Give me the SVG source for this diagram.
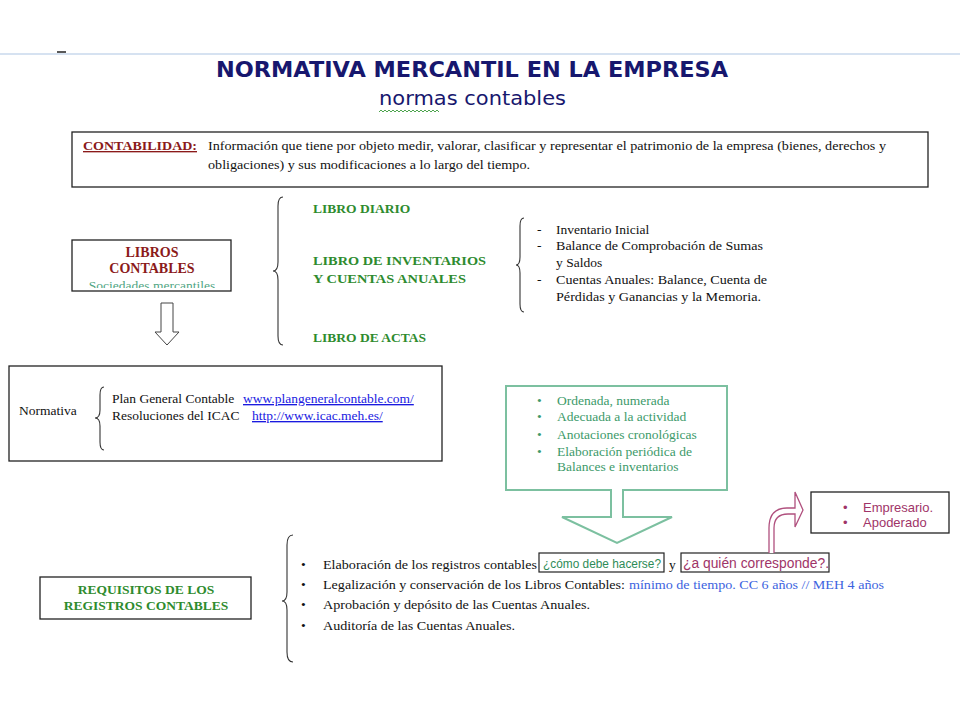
<svg xmlns="http://www.w3.org/2000/svg" width="960" height="720" viewBox="0 0 960 720">
<defs>
<style>
.s{font-family:"Liberation Serif","Times New Roman",serif;font-size:13.5px;fill:#111}
.sb{font-family:"Liberation Serif","Times New Roman",serif;font-weight:bold}
.a{font-family:"Liberation Sans",Arial,sans-serif}
.box{fill:#fff;stroke:#222;stroke-width:1.3}
.br{fill:none;stroke:#333;stroke-width:1.1}
.g{fill:#2e8b2e}
.sg{fill:#3d9a6a}
.pk{fill:#a03468}
.lnk{fill:#1a1adf;text-decoration:underline}
.blue{fill:#3b63e0}
.teal{fill:#4fa583}
</style>
<clipPath id="clipLib"><rect x="72" y="240" width="159" height="48"/></clipPath>
</defs>
<rect width="960" height="720" fill="#fff"/>
<line x1="0" y1="54" x2="960" y2="54" stroke="#c9d9ec" stroke-width="1.5"/>
<line x1="57" y1="52" x2="66" y2="52" stroke="#222" stroke-width="1.5"/>

<g id="title">
<text x="216" y="77" font-family="'DejaVu Sans',sans-serif" font-weight="bold" font-size="22" fill="#17176e" textLength="512" lengthAdjust="spacingAndGlyphs">NORMATIVA MERCANTIL EN LA EMPRESA</text>
<text x="379" y="105" font-family="'DejaVu Sans',sans-serif" font-size="20" fill="#17176e" textLength="187" lengthAdjust="spacingAndGlyphs">normas contables</text>
<path d="M379,112 l2,-2 l2,2 l2,-2 l2,2 l2,-2 l2,2 l2,-2 l2,2 l2,-2 l2,2 l2,-2 l2,2 l2,-2 l2,2 l2,-2 l2,2 l2,-2 l2,2 l2,-2 l2,2 l2,-2 l2,2 l2,-2 l2,2 l2,-2 l2,2 l2,-2 l2,2 l2,-2 l2,2" fill="none" stroke="#3a9a3a" stroke-width="0.9"/>
</g>

<g id="contabilidad">
<rect class="box" x="72" y="132" width="856" height="55"/>
<text class="sb" x="83" y="150" font-size="13.5" fill="#8b1a1a" text-decoration="underline" textLength="114" lengthAdjust="spacingAndGlyphs">CONTABILIDAD:</text>
<text class="s" x="208" y="150" textLength="678" lengthAdjust="spacingAndGlyphs">Información que tiene por objeto medir, valorar, clasificar y representar el patrimonio de la empresa (bienes, derechos y</text>
<text class="s" x="208" y="169" textLength="322" lengthAdjust="spacingAndGlyphs">obligaciones) y sus modificaciones a lo largo del tiempo.</text>
</g>

<g id="libros-contables">
<rect class="box" x="72" y="240" width="159" height="51"/>
<text class="sb" x="152" y="257" font-size="14" fill="#8b1a1a" text-anchor="middle">LIBROS</text>
<text class="sb" x="152" y="273" font-size="14" fill="#8b1a1a" text-anchor="middle">CONTABLES</text>
<text class="s teal" x="152" y="290" font-size="14" text-anchor="middle" clip-path="url(#clipLib)">Sociedades mercantiles</text>
</g>

<g id="libros-lista">
<text class="sb g" x="313" y="213" font-size="13.5">LIBRO DIARIO</text>
<text class="sb g" x="313" y="265" font-size="13.5" textLength="173" lengthAdjust="spacingAndGlyphs">LIBRO DE INVENTARIOS</text>
<text class="sb g" x="313" y="283" font-size="13.5" textLength="153" lengthAdjust="spacingAndGlyphs">Y CUENTAS ANUALES</text>
<text class="sb g" x="313" y="342" font-size="13.5">LIBRO DE ACTAS</text>
</g>

<g id="inventarios-detalle">
<text class="s" x="537" y="234">-</text>
<text class="s" x="556" y="234">Inventario Inicial</text>
<text class="s" x="537" y="250">-</text>
<text class="s" x="556" y="250" textLength="207" lengthAdjust="spacingAndGlyphs">Balance de Comprobación de Sumas</text>
<text class="s" x="556" y="267">y Saldos</text>
<text class="s" x="537" y="284">-</text>
<text class="s" x="556" y="284" textLength="211" lengthAdjust="spacingAndGlyphs">Cuentas Anuales: Balance, Cuenta de</text>
<text class="s" x="556" y="301" textLength="205" lengthAdjust="spacingAndGlyphs">Pérdidas y Ganancias y la Memoria.</text>
</g>

<g id="normativa">
<rect class="box" x="9" y="366" width="433" height="95"/>
<text class="s" x="19" y="415">Normativa</text>
<text class="s" x="112" y="403">Plan General Contable <tspan class="lnk" x="243">www.plangeneralcontable.com/</tspan></text>
<text class="s" x="112" y="420">Resoluciones del ICAC <tspan class="lnk" x="252">http://www.icac.meh.es/</tspan></text>
</g>

<g id="caracteristicas">
<path d="M506,386 H727 V490 H623 V517 H672 L617,543 L562,517 H611 V490 H506 Z" fill="#fff" stroke="#7cc0a0" stroke-width="2"/>
<g class="s sg" font-size="14">
<text x="537" y="405">•</text><text x="557" y="405">Ordenada, numerada</text>
<text x="537" y="421">•</text><text x="557" y="421">Adecuada a la actividad</text>
<text x="537" y="439">•</text><text x="557" y="439">Anotaciones cronológicas</text>
<text x="537" y="456">•</text><text x="557" y="456">Elaboración periódica de</text>
<text x="557" y="471">Balances e inventarios</text>
</g>
</g>

<g id="empresario">
<rect class="box" x="811" y="492" width="138" height="41"/>
<g class="a pk" font-size="13">
<text x="843" y="512">•</text><text x="863" y="512">Empresario.</text>
<text x="843" y="527">•</text><text x="863" y="527">Apoderado</text>
</g>
</g>

<g id="requisitos">
<rect class="box" x="40" y="577" width="211" height="42"/>
<text class="sb g" x="146" y="594" font-size="13.5" text-anchor="middle">REQUISITOS  DE LOS</text>
<text class="sb g" x="146" y="610" font-size="13.5" text-anchor="middle">REGISTROS CONTABLES</text>
</g>

<g id="requisitos-lista">
<text class="s" x="301" y="569">•</text>
<text class="s" x="323" y="569" textLength="214" lengthAdjust="spacingAndGlyphs">Elaboración de los registros contables</text>
<rect x="539" y="553" width="125" height="19" fill="none" stroke="#222" stroke-width="1.2"/>
<text class="a" x="543" y="568" font-size="12.5" fill="#2e8b57" textLength="118" lengthAdjust="spacingAndGlyphs">¿cómo debe hacerse?</text>
<text class="s" x="669" y="569">y</text>
<rect x="681" y="553" width="148" height="19" fill="none" stroke="#222" stroke-width="1.2"/>
<text class="a pk" x="683" y="568" font-size="14" textLength="146" lengthAdjust="spacingAndGlyphs">¿a quién corresponde?.</text>
<text class="s" x="301" y="589">•</text>
<text class="s" x="323" y="589" textLength="302" lengthAdjust="spacingAndGlyphs">Legalización y conservación de los Libros Contables:</text>
<text class="s blue" x="629" y="589" textLength="255" lengthAdjust="spacingAndGlyphs">mínimo de tiempo. CC 6 años // MEH 4 años</text>
<text class="s" x="301" y="609">•</text>
<text class="s" x="323" y="609" textLength="267" lengthAdjust="spacingAndGlyphs">Aprobación y depósito de las Cuentas Anuales.</text>
<text class="s" x="301" y="630">•</text>
<text class="s" x="323" y="630" textLength="192" lengthAdjust="spacingAndGlyphs">Auditoría de las Cuentas Anuales.</text>
</g>

<g id="connectors">
<path class="br" d="M283,197 Q278,197 278,206 L278,262 Q278,271 273,271 Q278,271 278,280 L278,336 Q278,345 283,345"/>
<path class="br" d="M524,218 Q520,218 520,226 L520,257 Q520,265 516,265 Q520,265 520,273 L520,304 Q520,312 524,312"/>
<path class="br" d="M104,387 Q100,387 100,395 L100,410 Q100,418 95,418 Q100,418 100,426 L100,442 Q100,450 104,450"/>
<path class="br" d="M293,535 Q287,535 287,545 L287,592 Q287,601 282,601 Q287,601 287,610 L287,652 Q287,662 293,662"/>
<path d="M161,303 H173 V332 H179 L167,345 L155,332 H161 Z" fill="#fff" stroke="#444" stroke-width="1"/>
<path d="M769,553 V528 Q769,508 787,508 H795 V492 L803,510 L795,527 V514 H788 Q774,514 774,528 V553" fill="#fff" stroke="#b0507e" stroke-width="1.3"/>
</g>
</svg>
